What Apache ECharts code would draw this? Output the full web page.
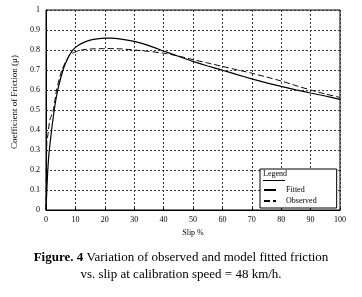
<!DOCTYPE html>
<html>
<head>
<meta charset="utf-8">
<script src="https://cdn.jsdelivr.net/npm/echarts@6/dist/echarts.min.js"></script>
<style>
  html, body { margin: 0; padding: 0; background: #fff; }
  #chart { width: 362px; height: 297px; }
</style>
</head>
<body>
<div id="chart"></div>
<script>
// fitted model curve (slip %, mu)
const fittedSlip = [0, 0.5, 1, 2, 3, 4, 5, 6, 7, 8, 9, 10, 12, 15, 18, 20, 22, 25, 30, 35, 40, 45, 50, 55, 60, 65, 70, 75, 80, 85, 90, 95, 100];
const fittedMu = [0, 0.17, 0.28, 0.41, 0.52, 0.6, 0.66, 0.71, 0.745, 0.775, 0.797, 0.813, 0.832, 0.849, 0.857, 0.859, 0.859, 0.856, 0.843, 0.822, 0.795, 0.769, 0.743, 0.72, 0.699, 0.677, 0.656, 0.636, 0.618, 0.601, 0.585, 0.57, 0.553];

// observed data
const observedSlip = [0, 0.1, 0.3, 0.6, 1.3, 2.5, 3.6, 5.4, 8, 10, 12, 15, 20, 25, 30, 35, 40, 45, 50, 55, 60, 65, 70, 75, 80, 85, 90, 95, 100];
const observedMu = [0, 0.18, 0.35, 0.37, 0.45, 0.5, 0.6, 0.7, 0.775, 0.79, 0.8, 0.805, 0.807, 0.806, 0.8, 0.793, 0.784, 0.77, 0.752, 0.735, 0.718, 0.701, 0.684, 0.665, 0.645, 0.622, 0.6, 0.58, 0.563];

const serif = '"Liberation Serif", "DejaVu Serif", serif';

const chart = echarts.init(document.getElementById('chart'));

const option = {
  animation: false,
  title: {
    left: 'center',
    top: 244,
    text: '{b|Figure. 4} Variation of observed and model fitted friction\nvs. slip at calibration speed = 48 km/h.',
    textStyle: {
      fontFamily: serif,
      fontSize: 13,
      fontWeight: 'normal',
      color: '#000',
      lineHeight: 17,
      rich: {
        b: { fontFamily: serif, fontSize: 13, fontWeight: 'bold', color: '#000', lineHeight: 17 }
      }
    }
  },
  grid: {
    left: 46,
    right: 22,
    top: 10,
    bottom: 87,
    show: true,
    borderColor: '#000',
    borderWidth: 1
  },
  xAxis: {
    type: 'value',
    min: 0,
    max: 100,
    interval: 10,
    name: 'Slip %',
    nameLocation: 'middle',
    nameGap: 17,
    nameTextStyle: { fontFamily: serif, fontSize: 8, color: '#000' },
    axisLine: { lineStyle: { color: '#000', width: 1 } },
    axisTick: { inside: true, length: 2, lineStyle: { color: '#000' } },
    axisLabel: { fontFamily: serif, fontSize: 8, color: '#000', margin: 6 },
    splitLine: { show: true, lineStyle: { color: '#333', width: 1, type: [2, 2] } }
  },
  yAxis: {
    type: 'value',
    min: 0,
    max: 1,
    interval: 0.1,
    name: 'Coefficient of Friction (μ)',
    nameLocation: 'middle',
    nameGap: 20,
    nameTextStyle: { fontFamily: serif, fontSize: 9, color: '#000', padding: [0, 0, 0, 16] },
    axisLine: { lineStyle: { color: '#000', width: 1 } },
    axisTick: { inside: true, length: 2, lineStyle: { color: '#000' } },
    axisLabel: { fontFamily: serif, fontSize: 8, color: '#000', margin: 6 },
    splitLine: { show: true, lineStyle: { color: '#333', width: 1, type: [2, 2] } }
  },
  legend: {
    left: 260,
    top: 169,
    orient: 'vertical',
    padding: [17, 20, 3, 3],
    itemGap: 3,
    itemWidth: 12,
    itemHeight: 8,
    borderColor: '#000',
    borderWidth: 1,
    backgroundColor: '#fff',
    itemStyle: { opacity: 0 },
    textStyle: { fontFamily: serif, fontSize: 8, color: '#000', padding: [0, 0, 0, 5] },
    data: ['Fitted', 'Observed']
  },
  graphic: [
    {
      type: 'text',
      left: 263,
      top: 170,
      z: 100,
      style: { text: 'Legend', font: '8px ' + serif, fill: '#000' }
    },
    {
      type: 'line',
      z: 100,
      shape: { x1: 263, y1: 180.5, x2: 285, y2: 180.5 },
      style: { stroke: '#000', lineWidth: 1 }
    }
  ],
  series: [
    {
      name: 'Fitted',
      type: 'line',
      symbol: 'none',
      showSymbol: false,
      smooth: 0.2,
      data: fittedSlip.map((s, i) => [s, fittedMu[i]]),
      itemStyle: { color: '#000' },
      lineStyle: { color: '#000', width: 1.2, type: 'solid' }
    },
    {
      name: 'Observed',
      type: 'line',
      symbol: 'none',
      showSymbol: false,
      smooth: 0.2,
      data: observedSlip.map((s, i) => [s, observedMu[i]]),
      itemStyle: { color: '#000' },
      lineStyle: { color: '#000', width: 1, type: [6, 3] }
    }
  ]
};

chart.setOption(option);
</script>
</body>
</html>
